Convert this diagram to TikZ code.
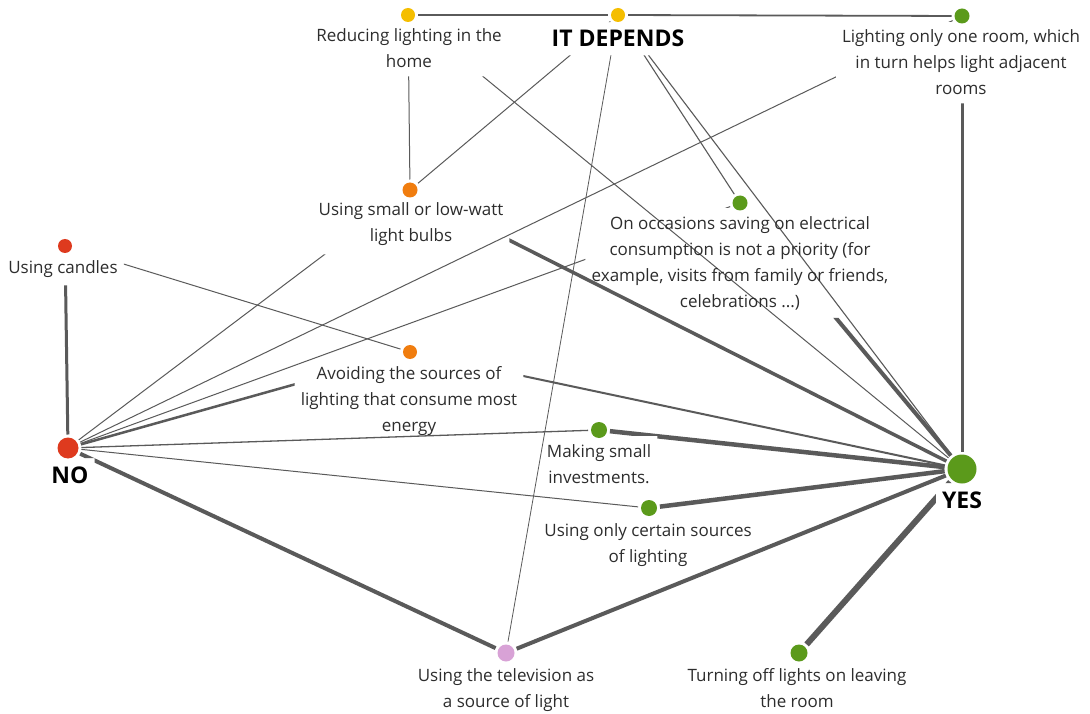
\documentclass[tikz,border=0pt]{standalone}
\usepackage{fontspec}
\setmainfont{Open Sans}
\usetikzlibrary{fit}
\definecolor{yel}{RGB}{245,190,0}
\definecolor{grn}{RGB}{91,154,27}
\definecolor{org}{RGB}{240,125,15}
\definecolor{redd}{RGB}{222,58,30}
\definecolor{pnk}{RGB}{216,162,214}
\definecolor{edge}{RGB}{90,90,90}
\definecolor{txt}{RGB}{45,45,45}
\pgfdeclarelayer{edges}
\pgfsetlayers{edges,main}
% #1 width, #2/#3 dots, #4/#5 the areas that hide the edge (labels)
\newcommand\lnk[5]{%
  \begin{pgfonlayer}{edges}
  \begin{scope}
  \clip (-5,-5) rectangle (1095,719)
        (#4.south west) rectangle (#4.north east)
        (#5.south west) rectangle (#5.north east);
  \draw[ew=#1] (#2) -- (#3);
  \end{scope}
  \end{pgfonlayer}}
\begin{document}
\begin{tikzpicture}[x=1pt,y=-1pt,
  dot/.style={circle, inner sep=0pt, outer sep=3pt},
  lbl/.style={align=center, inner xsep=6pt, inner ysep=8pt, anchor=base,
    font=\fontsize{17}{26}\selectfont, text=txt},
  big/.style={inner xsep=6pt, inner ysep=8pt, anchor=base,
    font=\fontsize{23}{26}\selectfont\bfseries, text=black},
  mask/.style={inner sep=0pt, outer sep=0pt},
  ew/.style={draw=edge, line width=#1}]
\useasboundingbox (0,0) rectangle (1090,714);
\begin{pgfonlayer}{edges}
\fill[white] (0,0) rectangle (1090,714);
\end{pgfonlayer}
% dots
\node[dot, fill=yel, minimum size=14pt] (r) at (408,15) {};
\node[dot, fill=yel, minimum size=14pt] (id) at (618,15) {};
\node[dot, fill=grn, minimum size=15pt] (l) at (962,16) {};
\node[dot, fill=org, minimum size=15pt] (s) at (410,190) {};
\node[dot, fill=redd, minimum size=14pt] (c) at (65,246) {};
\node[dot, fill=grn, minimum size=15pt] (o) at (740,203) {};
\node[dot, fill=org, minimum size=14pt] (a) at (410,352) {};
\node[dot, fill=redd, minimum size=21pt] (no) at (68,448) {};
\node[dot, fill=grn, minimum size=16pt] (m) at (599,430) {};
\node[dot, fill=grn, minimum size=29pt] (yes) at (962,469) {};
\node[dot, fill=grn, minimum size=16pt] (u) at (649,508) {};
\node[dot, fill=pnk, minimum size=17pt] (tv) at (506,653) {};
\node[dot, fill=grn, minimum size=17pt] (t) at (799,653) {};
% labels
\node[lbl] (rl) at (409,68) {Reducing lighting in the\\home};
\node[big] (idl) at (618,47) {IT DEPENDS};
\node[lbl] (ll) at (961,95) {Lighting only one room, which\\in turn helps light adjacent\\rooms};
\node[lbl] (sl) at (411,242) {Using small or low-watt\\light bulbs};
\node[lbl] (cl) at (63,273) {Using candles};
\node[lbl] (ol) at (740,307) {On occasions saving on electrical\\consumption is not a priority (for\\example, visits from family or friends,\\celebrations ...)};
\node[lbl] (al) at (409,431) {Avoiding the sources of\\lighting that consume most\\energy};
\node[big] (nol) at (70,483) {NO};
\node[lbl] (ml) at (599,483) {Making small\\investments.};
\node[big] (yesl) at (962,508) {YES};
\node[lbl] (ul) at (648,562) {Using only certain sources\\of lighting};
\node[lbl] (tvl) at (506,707) {Using the television as\\a source of light};
\node[lbl] (tl) at (797,707) {Turning off lights on leaving\\the room};
% hiding areas that reach up to the dot
\node[mask, fit=(sl.south west)(sl.north east)(s.center)] (sm) {};
\node[mask, fit=(cl.south west)(cl.north east)(c.center)] (cm) {};
\node[mask, fit=(al.south west)(al.north east)(a.center)] (am) {};
% edges
\lnk{2.2pt}{r}{id}{rl}{idl}
\lnk{1.8pt}{id}{l}{idl}{ll}
\lnk{1pt}{r}{s}{rl}{sl}
\lnk{1pt}{r}{yes}{rl}{yesl}
\lnk{1pt}{id}{s}{idl}{sl}
\lnk{0.8pt}{id}{tv}{idl}{tvl}
\lnk{1.1pt}{id}{o}{idl}{ol}
\lnk{1.1pt}{id}{yes}{idl}{yesl}
\lnk{3pt}{l}{yes}{ll}{yesl}
\lnk{1pt}{l}{no}{ll}{nol}
\lnk{3.5pt}{s}{yes}{sm}{yesl}
\lnk{1pt}{s}{no}{sm}{nol}
\lnk{1pt}{o}{no}{ol}{nol}
\lnk{4pt}{o}{yes}{ol}{yesl}
\lnk{3pt}{c}{no}{cm}{nol}
\lnk{1pt}{c}{a}{cm}{al}
\lnk{2.5pt}{a}{no}{am}{nol}
\lnk{2pt}{a}{yes}{am}{yesl}
\lnk{1.3pt}{m}{no}{ml}{nol}
\lnk{4.5pt}{m}{yes}{ml}{yesl}
\lnk{1pt}{u}{no}{ul}{nol}
\lnk{4.5pt}{u}{yes}{ul}{yesl}
\lnk{4pt}{no}{tv}{nol}{tvl}
\lnk{4pt}{tv}{yes}{tvl}{yesl}
\lnk{6pt}{t}{yes}{tl}{yesl}
\end{tikzpicture}
\end{document}
